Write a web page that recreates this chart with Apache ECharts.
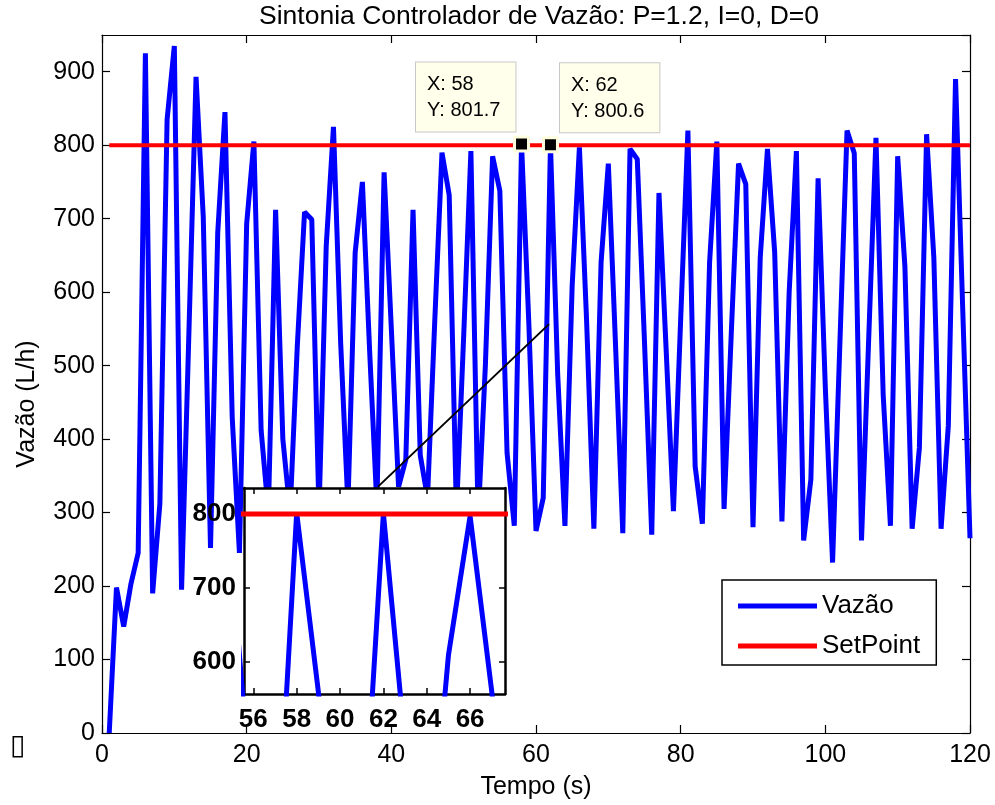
<!DOCTYPE html>
<html><head><meta charset="utf-8">
<script src="https://cdn.jsdelivr.net/npm/echarts@6/dist/echarts.min.js"></script>
<style>html,body{margin:0;padding:0;background:#fff}#c{width:995px;height:805px}</style>
</head><body><div id="c"></div>
<script>
// ---------- data ----------
const titleText = 'Sintonia Controlador de Vazão: P=1.2, I=0, D=0';
const xName = 'Tempo (s)';
const yName = 'Vazão (L/h)';
const seriesNames = ['Vazão', 'SetPoint'];
const tStart = 1;          // time of first sample (s)
const tStep = 1;           // sample period (s)
const vazao = [
  0,198,145,203,245,925,190,312,835,935,
  195,540,893,702,252,681,845,430,245,693,
  805,412,300,712,400,300,527,709,699,300,
  663,825,530,310,654,750,520,310,763,550,
  335,372,712,378,320,560,790,732,300,540,
  792,290,500,785,738,381,282,801.7,560,275,
  320,800.6,488,282,609,797,560,278,641,775,
  527,272,795,781,532,270,735,520,302,563,
  820,363,285,641,805,305,545,775,747,280,
  647,795,654,288,600,792,262,345,755,470,
  232,527,820,789,262,538,810,460,282,785,
  635,278,388,815,647,278,418,890,575,265
];
const setPointTimes = [1, 120];
const setPointValues = [800, 800];
const xRange = [0, 120], xInterval = 20;
const yRange = [0, 950], yInterval = 100;
const insetXRange = [55.57, 67.61];
const insetYRange = [557, 835];
const insetXTicks = [56, 58, 60, 62, 64, 66];
const insetYTicks = [600, 700, 800];
const datatipT = [58, 62];
const datatipV = [801.7, 800.6];
const connectorT = [38.16, 61.8];
const connectorV = [335.3, 556.5];
const tofuGlyph = '\u25AF';

// ---------- build ----------
const FONT = 'Liberation Sans';
const vazaoData = vazao.map((v, i) => [tStart + i * tStep, v]);
const spData = setPointTimes.map((t, i) => [t, setPointValues[i]]);

const chart = echarts.init(document.getElementById('c'), null, {renderer: 'canvas'});

function tickIn(len, w) { return {show: true, inside: true, length: len, lineStyle: {color: '#000', width: w}}; }
function lineOn(w) { return {show: true, onZero: false, lineStyle: {color: '#000', width: w}}; }
const mainLabel = {color: '#000', fontFamily: FONT, fontSize: 25};

const option = {
  animation: false,
  backgroundColor: '#fff',
  title: {
    text: titleText, left: 259, top: 3, padding: 0,
    textStyle: {fontFamily: FONT, fontSize: 26.5, fontWeight: 'normal', color: '#000'}
  },
  legend: {
    left: 722, top: 580, orient: 'vertical', z: 20, icon: 'rect',
    backgroundColor: '#fff', borderColor: '#000', borderWidth: 1.5,
    padding: [10, 16, 3, 16], itemGap: 8, itemWidth: 79, itemHeight: 5, itemTextGap: 12,
    textStyle: {fontFamily: FONT, fontSize: 26, color: '#000', lineHeight: 32},
    data: seriesNames
  },
  grid: [
    {left: 102, top: 35, width: 868, height: 700, show: true, backgroundColor: '#fff',
     borderColor: '#000', borderWidth: 0, z: 0},
    {left: 244, top: 488, width: 261, height: 206, show: true, backgroundColor: '#fff',
     borderColor: '#000', borderWidth: 0, z: 5}
  ],
  xAxis: [
    {type: 'value', gridIndex: 0, min: xRange[0], max: xRange[1], interval: xInterval,
     name: xName, nameLocation: 'middle', nameGap: 42,
     nameTextStyle: {fontFamily: FONT, fontSize: 25, color: '#000'},
     axisLine: lineOn(1.2), axisTick: tickIn(8, 1.2), splitLine: {show: false},
     axisLabel: Object.assign({margin: 10, showMaxLabel: true}, mainLabel)},
    {type: 'value', gridIndex: 0, position: 'top', min: xRange[0], max: xRange[1], interval: xInterval,
     axisLine: lineOn(1.2), axisTick: tickIn(8, 1.2), splitLine: {show: false}, axisLabel: {show: false}},
    {type: 'value', gridIndex: 1, min: insetXRange[0], max: insetXRange[1], z: 6,
     axisLine: lineOn(2.5), splitLine: {show: false},
     axisTick: Object.assign(tickIn(6, 1.5), {customValues: insetXTicks}),
     axisLabel: {customValues: insetXTicks, margin: 13, color: '#000', fontFamily: FONT, fontSize: 26, fontWeight: 'bold'}},
    {type: 'value', gridIndex: 1, position: 'top', min: insetXRange[0], max: insetXRange[1], z: 6,
     axisLine: lineOn(2.5), splitLine: {show: false}, axisLabel: {show: false},
     axisTick: Object.assign(tickIn(6, 1.5), {customValues: insetXTicks})}
  ],
  yAxis: [
    {type: 'value', gridIndex: 0, min: yRange[0], max: yRange[1], interval: yInterval,
     name: yName, nameLocation: 'middle', nameGap: 62, nameRotate: 90,
     nameTextStyle: {fontFamily: FONT, fontSize: 25, color: '#000', padding: [0, 40, 0, 0]},
     axisLine: lineOn(1.2), axisTick: tickIn(8, 1.2), splitLine: {show: false},
     axisLabel: Object.assign({margin: 7, showMaxLabel: false}, mainLabel)},
    {type: 'value', gridIndex: 0, position: 'right', min: yRange[0], max: yRange[1], interval: yInterval,
     axisLine: lineOn(1.2), axisTick: tickIn(8, 1.2), splitLine: {show: false}, axisLabel: {show: false}},
    {type: 'value', gridIndex: 1, min: insetYRange[0], max: insetYRange[1], z: 6,
     axisLine: lineOn(2.5), splitLine: {show: false},
     axisTick: Object.assign(tickIn(6, 1.5), {customValues: insetYTicks}),
     axisLabel: {customValues: insetYTicks, margin: 8, color: '#000', fontFamily: FONT, fontSize: 26, fontWeight: 'bold'}},
    {type: 'value', gridIndex: 1, position: 'right', min: insetYRange[0], max: insetYRange[1], z: 6,
     axisLine: lineOn(2.5), splitLine: {show: false}, axisLabel: {show: false},
     axisTick: Object.assign(tickIn(6, 1.5), {customValues: insetYTicks})}
  ],
  series: [
    {name: seriesNames[0], type: 'line', xAxisIndex: 0, yAxisIndex: 0, data: vazaoData,
     showSymbol: false, symbol: 'none', z: 2,
     lineStyle: {color: '#0000ff', width: 5, join: 'bevel'}, itemStyle: {color: '#0000ff'},
     markLine: {
       silent: true, symbol: 'none', label: {show: false},
       lineStyle: {color: '#000', width: 2, type: 'solid'},
       data: [[{coord: [connectorT[0], connectorV[0]]}, {coord: [connectorT[1], connectorV[1]]}]]
     }},
    {name: seriesNames[1], type: 'line', xAxisIndex: 0, yAxisIndex: 0, data: spData,
     showSymbol: false, symbol: 'none', z: 3,
     lineStyle: {color: '#ff0000', width: 4}, itemStyle: {color: '#ff0000'},
     markPoint: {
       symbol: 'rect', symbolSize: 14, z: 15,
       itemStyle: {color: '#000', borderColor: '#ffffe0', borderWidth: 3},
       data: datatipT.map((t, i) => ({
         coord: [t, datatipV[i]],
         label: {
           show: true, formatter: 'X: ' + t + '\nY: ' + datatipV[i],
           position: i === 0 ? [-97, -73] : [18, -73],
           align: 'left', verticalAlign: 'top',
           backgroundColor: '#ffffeb', borderColor: '#c8c8c8', borderWidth: 1,
           padding: [9, 15, 8, 11], fontFamily: FONT, fontSize: 20, lineHeight: 26, color: '#000'
         }
       }))
     }},
    {name: seriesNames[0] + ' ', type: 'line', xAxisIndex: 2, yAxisIndex: 2, data: vazaoData,
     showSymbol: false, symbol: 'none', z: 7, clip: true, legendHoverLink: false,
     lineStyle: {color: '#0000ff', width: 5, join: 'bevel'}},
    {name: seriesNames[1] + ' ', type: 'line', xAxisIndex: 2, yAxisIndex: 2, data: spData,
     showSymbol: false, symbol: 'none', z: 8, clip: true,
     lineStyle: {color: '#ff0000', width: 5}}
  ],
  graphic: [
    {type: 'text', left: 10, top: 733, style: {text: tofuGlyph, font: 'bold 28px DejaVu Sans', fill: '#000'}}
  ]
};
chart.setOption(option);
</script>
</body></html>
